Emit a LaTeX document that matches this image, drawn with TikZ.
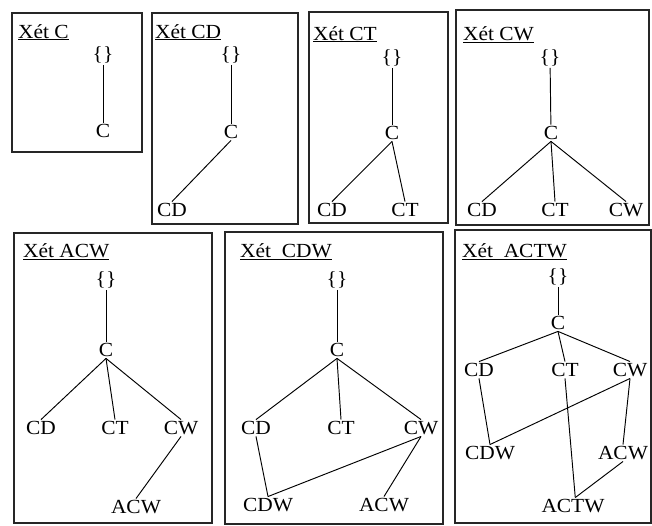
\documentclass[tikz,border=0pt]{standalone}
\usepackage{fontspec}
\setmainfont{Liberation Serif}[FakeStretch=1.07]
\newcommand\lbfont{\fontsize{20}{23}\selectfont}
\tikzset{
  lbl/.style={inner sep=1.5pt, font=\lbfont},
  ttl/.style={anchor=base west, inner sep=0pt, font=\lbfont},
  frame/.style={draw=black!85, line width=1.2pt},
  edge/.style={line width=0.95pt}
}
\begin{document}
\begin{tikzpicture}[x=1pt,y=-1pt]
\useasboundingbox (0,0) rectangle (652,525);
\clip (0,0) rectangle (652,525);
\fill[white] (0,0) rectangle (652,525);
% frames
\draw[frame] (12,13) rectangle (142,152);
\draw[frame] (152,13) rectangle (298,224);
\draw[frame] (309,12) rectangle (448,223);
\draw[frame] (456,10) rectangle (649,225);
\draw[frame] (14,233) rectangle (212,523);
\draw[frame] (225,232) rectangle (443,524);
\draw[frame] (455,230) rectangle (651,523);
% Box 1
\node[ttl] (t1) at (18,38) {\underline{Xét C}};
\node[lbl] (a0) at (103,55) {\{\}};
\node[lbl] (ac) at (103,131) {C};
\draw[edge] (a0) -- (ac);
% Box 2
\node[ttl] (t2) at (155,38) {\underline{Xét CD}};
\node[lbl] (b0) at (231,55) {\{\}};
\node[lbl] (bc) at (231,132) {C};
\node[lbl] (bcd) at (172,210) {CD};
\draw[edge] (b0) -- (bc);
\draw[edge] (bc.south) -- (bcd.north);
% Box 3
\node[ttl] (t3) at (313,40) {\underline{Xét CT}};
\node[lbl] (c0) at (392,58) {\{\}};
\node[lbl] (cc) at (392,133) {C};
\node[lbl] (ccd) at (332,210) {CD};
\node[lbl] (cct) at (405,210) {CT};
\draw[edge] (c0) -- (cc);
\draw[edge] (cc.south) -- (ccd.north);
\draw[edge] (cc.south) -- (cct.north);
% Box 4
\node[ttl] (t4) at (463,40) {\underline{Xét CW}};
\node[lbl] (d0) at (550,58) {\{\}};
\node[lbl] (dc) at (551,133) {C};
\node[lbl] (dcd) at (482,210) {CD};
\node[lbl] (dct) at (555,210) {CT};
\node[lbl] (dcw) at (626,210) {CW};
\draw[edge] (d0) -- (dc);
\draw[edge] (dc.south) -- (dcd.north);
\draw[edge] (dc.south) -- (dct.north);
\draw[edge] (dc.south) -- (dcw.north);
% Box 5
\node[ttl] (t5) at (23,257) {\underline{Xét ACW}};
\node[lbl] (e0) at (106,280) {\{\}};
\node[lbl] (ec) at (106,350) {C};
\node[lbl] (ecd) at (41,428) {CD};
\node[lbl] (ect) at (115,428) {CT};
\node[lbl] (ecw) at (181,428) {CW};
\node[lbl] (eacw) at (136,507) {ACW};
\draw[edge] (e0) -- (ec);
\draw[edge] (ec.south) -- (ecd.north);
\draw[edge] (ec.south) -- (ect.north);
\draw[edge] (ec.south) -- (ecw.north);
\draw[edge] (ecw.south) -- (eacw.north);
% Box 6
\node[ttl] (t6) at (240,257) {\underline{Xét\ \ CDW}};
\node[lbl] (f0) at (337,280) {\{\}};
\node[lbl] (fc) at (337,350) {C};
\node[lbl] (fcd) at (256,428) {CD};
\node[lbl] (fct) at (341,428) {CT};
\node[lbl] (fcw) at (421,428) {CW};
\node[lbl] (fcdw) at (268,505) {CDW};
\node[lbl] (facw) at (384,505) {ACW};
\draw[edge] (f0) -- (fc);
\draw[edge] (fc.south) -- (fcd.north);
\draw[edge] (fc.south) -- (fct.north);
\draw[edge] (fc.south) -- (fcw.north);
\draw[edge] (fcd.south) -- (fcdw.north);
\draw[edge] (fcw.south) -- (fcdw.north);
\draw[edge] (fcw.south) -- (facw.north);
% Box 7
\node[ttl] (t7) at (462,257) {\underline{Xét\ \ ACTW}};
\node[lbl] (g0) at (558,277) {\{\}};
\node[lbl] (gc) at (558,323) {C};
\node[lbl] (gcd) at (479,370) {CD};
\node[lbl] (gct) at (565,370) {CT};
\node[lbl] (gcw) at (630,370) {CW};
\node[lbl] (gcdw) at (490,453) {CDW};
\node[lbl] (gacw) at (623,453) {ACW};
\node[lbl] (gactw) at (573,506) {ACTW};
\draw[edge] (g0) -- (gc);
\draw[edge] (gc.south) -- (gcd.north);
\draw[edge] (gc.south) -- (gct.north);
\draw[edge] (gc.south) -- (gcw.north);
\draw[edge] (gcd.south) -- (gcdw.north);
\draw[edge] (gcw.south) -- (gcdw.north);
\draw[edge] (gcw.south) -- (gacw.north);
\draw[edge] (gct.south) -- (gactw.75);
\draw[edge] (gacw.south) -- (gactw.75);
\end{tikzpicture}
\end{document}
